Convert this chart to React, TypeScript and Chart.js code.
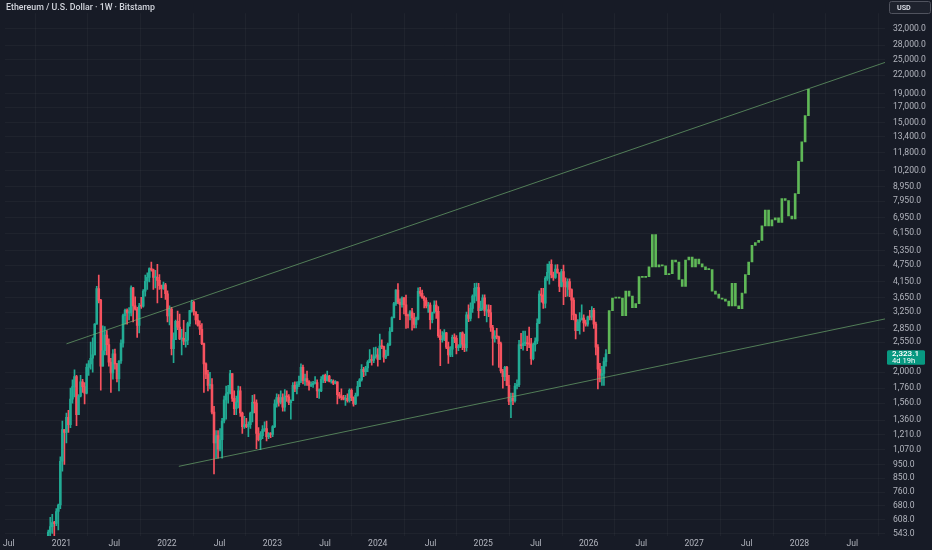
import React, { useEffect, useRef } from "react";
import { Chart, registerables } from "chart.js";

Chart.register(...registerables);

const W = 932;
const H = 550;
const BG = "#171b26";
const UP = "#22ab94";
const DOWN = "#f7525f";
const PROJ = "#5fb857";
const TEXT = "#b2b5be";
const GRID = "rgba(255,255,255,0.035)";
const TREND = "rgba(118,186,118,0.62)";

// ---- Weekly ETH/USD candles (Bitstamp), weeks starting Monday ----
const realStart = "2020-11-16";
const firstOpen = 460;

const weeklyClose = [
  // 2020
  550, 575, 595, 590, 650, 685, 975,
  // 2021
  1260, 1230, 1390, 1310, 1610, 1780, 1930, 1420, 1650, 1850, 1780, 1690, 2080, 2140, 2240, 2300, 2950, 3930, 3580, 2100,
  2380, 2700, 2500, 2170, 1990, 2320, 2140, 1900, 2190, 2530, 3160, 3300, 3230, 3230, 3950, 3420, 3330, 2920, 3420, 3410,
  3850, 4170, 4300, 4620, 4570, 4300, 4300, 4200, 4020, 3930, 4050, 3770,
  // 2022
  3150, 3330, 2420, 2600, 3020, 2880, 2620, 2630, 2570, 2590, 2960, 3290, 3520, 3260, 3050, 2920, 2830, 2520, 2140, 1970,
  1800, 1810, 1450, 1130, 1200, 1075, 1160, 1350, 1600, 1680, 1700, 1980, 1620, 1490, 1570, 1720, 1440, 1290, 1310, 1290,
  1310, 1440, 1570, 1560, 1220, 1160, 1200, 1260, 1270, 1190, 1220, 1210,
  // 2023
  1290, 1550, 1630, 1570, 1630, 1510, 1650, 1640, 1565, 1590, 1800, 1750, 1810, 1860, 2080, 1870, 1900, 1850, 1800, 1810,
  1830, 1840, 1720, 1720, 1890, 1950, 1870, 1940, 1860, 1860, 1830, 1850, 1670, 1650, 1630, 1610, 1620, 1590, 1730, 1630,
  1550, 1660, 1780, 1880, 2050, 2010, 2070, 2170, 2220, 2200, 2270, 2300,
  // 2024
  2220, 2470, 2460, 2260, 2290, 2500, 2780, 3110, 3480, 3880, 3520, 3450, 3640, 3450, 3160, 3150, 3260, 3100, 2940, 3070,
  3840, 3780, 3660, 3570, 3420, 3440, 3060, 3240, 3440, 3270, 2690, 2600, 2610, 2750, 2450, 2300, 2410, 2650, 2630, 2440,
  2470, 2750, 2510, 2440, 3180, 3090, 3350, 3700, 3940, 3960, 3290, 3350, 3650,
  // 2025
  3280, 3310, 3240, 2870, 2630, 2680, 2660, 2520, 2020, 1930, 2080, 1800, 1580, 1620, 1590, 1790, 1810, 2500, 2480, 2530,
  2540, 2520, 2510, 2230, 2500, 2570, 2970, 3760, 3720, 3490, 4270, 4480, 4780, 4390, 4300, 4600, 4460, 4000, 4510, 4150,
  3980, 4160, 3900, 3580, 3180, 2800, 3000, 3050, 3100, 2980, 2950, 3130,
  // 2026
  3120, 3300, 2950, 2450, 2050, 1950, 1980, 2180, 2323.1,
];

const weeklyHigh = [
  560, 620, 635, 600, 665, 690, 1010,
  1350, 1260, 1440, 1470, 1760, 1880, 2040, 1950, 1670, 1950, 1890, 1840, 2140, 2200, 2550, 2640, 2960, 4000, 4380, 3600,
  2910, 2890, 2800, 2620, 2240, 2400, 2410, 2150, 2200, 2600, 3200, 3330, 3340, 3370, 4020, 3970, 3680, 3380, 3490, 3660,
  3900, 4380, 4460, 4650, 4870, 4600, 4550, 4780, 4400, 4040, 4140, 4100,
  3860, 3420, 3380, 2750, 3050, 3280, 3200, 2830, 3040, 2760, 3000, 3300, 3580, 3550, 3250, 3190, 3030, 2960, 2530, 2160,
  2030, 2000, 1900, 1520, 1250, 1250, 1270, 1380, 1650, 1790, 1800, 2030, 1980, 1720, 1650, 1790, 1780, 1450, 1400, 1380,
  1340, 1450, 1660, 1670, 1600, 1280, 1240, 1300, 1340, 1350, 1230, 1230,
  1300, 1600, 1680, 1670, 1720, 1680, 1740, 1720, 1670, 1600, 1840, 1850, 1850, 1940, 2140, 2120, 1970, 2020, 1870, 1850,
  1860, 1930, 1880, 1750, 1930, 1960, 1970, 2020, 1950, 1890, 1880, 1870, 1850, 1700, 1750, 1660, 1660, 1680, 1750, 1750,
  1640, 1690, 1860, 1900, 2130, 2080, 2100, 2200, 2400, 2300, 2440, 2450,
  2420, 2720, 2600, 2470, 2390, 2530, 2870, 3130, 3520, 3900, 4090, 3620, 3680, 3660, 3730, 3200, 3290, 3350, 3220, 3120,
  3950, 3970, 3880, 3700, 3650, 3520, 3500, 3250, 3560, 3560, 3400, 2820, 2780, 2820, 2760, 2550, 2460, 2700, 2730, 2690,
  2500, 2760, 2770, 2720, 3250, 3450, 3500, 3740, 4100, 4110, 4100, 3550, 3740,
  3740, 3450, 3450, 3430, 2920, 2800, 2850, 2680, 2550, 2050, 2100, 2100, 1950, 1690, 1690, 1830, 1880, 2590, 2740, 2790,
  2790, 2680, 2880, 2630, 2530, 2640, 3080, 3860, 3940, 3940, 4330, 4790, 4890, 4960, 4490, 4760, 4770, 4460, 4590, 4750,
  4290, 4250, 4250, 3920, 3650, 3200, 3060, 3240, 3450, 3180, 3050, 3150,
  3300, 3400, 3350, 3000, 2500, 2150, 2100, 2250, 2400,
];

const weeklyLow = [
  440, 490, 545, 530, 580, 560, 665,
  900, 950, 1130, 1230, 1280, 1560, 1640, 1300, 1420, 1640, 1700, 1550, 1680, 1950, 2050, 2000, 2300, 2950, 3500, 1730,
  2100, 2300, 2300, 2100, 1700, 1890, 2050, 1850, 1720, 2150, 2450, 2950, 2950, 3050, 3150, 3000, 3300, 2650, 2750, 3350,
  3380, 3700, 3900, 4150, 4520, 3900, 3950, 3500, 3900, 3650, 3900, 3600,
  3000, 2930, 2300, 2160, 2600, 2820, 2600, 2300, 2500, 2450, 2500, 2900, 3250, 3170, 2950, 2900, 2710, 2500, 1700, 1900,
  1720, 1750, 1430, 880, 1000, 1000, 1060, 1000, 1330, 1370, 1560, 1680, 1580, 1420, 1420, 1500, 1400, 1220, 1270, 1280,
  1190, 1270, 1340, 1440, 1080, 1150, 1070, 1170, 1240, 1150, 1170, 1180,
  1190, 1280, 1510, 1520, 1550, 1460, 1460, 1580, 1540, 1370, 1590, 1710, 1680, 1780, 1840, 1820, 1800, 1800, 1730, 1780,
  1770, 1820, 1630, 1620, 1710, 1840, 1840, 1860, 1850, 1830, 1810, 1820, 1550, 1620, 1600, 1600, 1530, 1570, 1570, 1590,
  1520, 1540, 1650, 1780, 1860, 1930, 1950, 2010, 2160, 2120, 2160, 2240,
  2100, 2220, 2420, 2170, 2230, 2290, 2480, 2780, 3100, 3430, 3480, 3060, 3380, 3200, 2850, 2860, 3050, 2810, 2860, 2860,
  3050, 3700, 3630, 3360, 3360, 3240, 2830, 2980, 3220, 3090, 2650, 2110, 2550, 2580, 2420, 2150, 2270, 2270, 2540, 2320,
  2380, 2440, 2400, 2360, 2370, 3010, 3030, 3240, 3500, 3560, 3100, 3290, 3300,
  3160, 3000, 3130, 2780, 2120, 2550, 2620, 2080, 1990, 1760, 1870, 1800, 1540, 1385, 1540, 1570, 1750, 1780, 2420, 2390,
  2480, 2380, 2440, 2130, 2210, 2370, 2520, 2960, 3520, 3350, 3360, 4200, 4070, 4280, 4200, 4270, 4450, 3830, 3980, 3450,
  3680, 3700, 3680, 3060, 3050, 2620, 2800, 2720, 3050, 2780, 2900, 2900,
  3050, 3050, 2850, 2300, 1750, 1850, 1800, 1800, 2100,
];

// ---- Projected path (green bars pattern) ----
const projStart = "2026-03-13";
const projStepDays = 11.5;
const projClose = [
  3290, 3640, 3670, 3640, 3160, 3850, 3700, 3370, 3480, 4330, 4300, 4330, 4685, 6080, 4685, 4760, 4720, 4400, 4435, 4950,
  4870, 4230, 4000, 4950, 5070, 4685, 4990, 4800, 4685, 4580, 4580, 3850, 3760, 3640, 3610, 3550, 3420, 4100, 3420, 3340,
  3790, 4400, 4870, 5570, 5700, 5800, 6520, 7400, 6520, 6840, 6950, 6700, 8130, 8000, 7060, 6900, 8460, 10970, 12840, 15880,
  19640,
];

// ---- Channel trend lines (decimal year, price) ----
const upperLineX = [2021.047, 2028.811];
const upperLineY = [2516, 24390];
const lowerLineX = [2022.113, 2028.811];
const lowerLineY = [936, 3076];

// ---- Axes ----
const X_MIN = 2020.4623;
const X_MAX = 2028.811;
const Y_MIN = 533.4;
const Y_MAX = 36300;
const timeTicks = [2020.5, 2021, 2021.5, 2022, 2022.5, 2023, 2023.5, 2024, 2024.5, 2025, 2025.5, 2026, 2026.5, 2027, 2027.5, 2028, 2028.5];
const timeLabels = ["Jul", "2021", "Jul", "2022", "Jul", "2023", "Jul", "2024", "Jul", "2025", "Jul", "2026", "Jul", "2027", "Jul", "2028", "Jul"];
const priceTicks = [
  543, 608, 680, 760, 850, 950, 1070, 1210, 1360, 1560, 1760, 2000, 2550, 2850, 3250, 3650, 4150, 4750, 5350, 6150, 6950,
  7950, 8950, 10200, 11800, 13400, 15000, 17000, 19000, 22000, 25000, 28000, 32000,
];
const title = "Ethereum / U.S. Dollar · 1W · Bitstamp";
const lastPrice = 2323.1;
const countdown = "4d 19h";
const currency = "USD";

const DAY = 86400000;
function toYear(ms: number): number {
  const y = new Date(ms).getUTCFullYear();
  const s = Date.UTC(y, 0, 1);
  const e = Date.UTC(y + 1, 0, 1);
  return y + (ms - s) / (e - s);
}
const fmtPrice = (v: number) =>
  v.toLocaleString("en-US", { minimumFractionDigits: 1, maximumFractionDigits: 1 });

function roundRect(ctx: CanvasRenderingContext2D, x: number, y: number, w: number, h: number, r: number) {
  ctx.beginPath();
  ctx.moveTo(x + r, y);
  ctx.lineTo(x + w - r, y);
  ctx.quadraticCurveTo(x + w, y, x + w, y + r);
  ctx.lineTo(x + w, y + h - r);
  ctx.quadraticCurveTo(x + w, y + h, x + w - r, y + h);
  ctx.lineTo(x + r, y + h);
  ctx.quadraticCurveTo(x, y + h, x, y + h - r);
  ctx.lineTo(x, y + r);
  ctx.quadraticCurveTo(x, y, x + r, y);
  ctx.closePath();
}

export default function App() {
  const ref = useRef<HTMLCanvasElement>(null);

  useEffect(() => {
    document.body.style.margin = "0";
    document.body.style.background = BG;
    const canvas = ref.current;
    if (!canvas) return;

    const startMs = Date.parse(realStart + "T00:00:00Z");
    const candles = weeklyClose.map((c, i) => {
      const o = i === 0 ? firstOpen : weeklyClose[i - 1];
      return {
        x: toYear(startMs + i * 7 * DAY),
        o,
        c,
        h: Math.max(weeklyHigh[i], o, c),
        l: Math.min(weeklyLow[i], o, c),
      };
    });
    const colors = candles.map((k) => (k.c >= k.o ? UP : DOWN));
    const projMs = Date.parse(projStart + "T00:00:00Z");
    const lastClose = weeklyClose[weeklyClose.length - 1];
    const proj = projClose.map((c, i) => ({
      x: toYear(projMs + i * projStepDays * DAY),
      y: [i === 0 ? lastClose : projClose[i - 1], c],
    }));

    const overlay = {
      id: "overlay",
      beforeDraw(chart: any) {
        const ctx = chart.ctx as CanvasRenderingContext2D;
        ctx.save();
        ctx.fillStyle = BG;
        ctx.fillRect(0, 0, chart.width, chart.height);
        ctx.restore();
      },
      afterDraw(chart: any) {
        const ctx = chart.ctx as CanvasRenderingContext2D;
        ctx.save();
        // title
        ctx.fillStyle = "#d1d4dc";
        ctx.font = "500 8.8px Roboto";
        ctx.textBaseline = "middle";
        ctx.textAlign = "left";
        ctx.fillText(title, 6, 7.5);
        // currency box
        roundRect(ctx, 889.5, 1.5, 41, 12, 2);
        ctx.fillStyle = "#1e222d";
        ctx.fill();
        ctx.strokeStyle = "#50535e";
        ctx.lineWidth = 1;
        ctx.stroke();
        ctx.fillStyle = "#e0e3eb";
        ctx.font = "600 7.2px Roboto";
        ctx.fillText(currency, 897, 7.8);
        // last price badge
        const y = chart.scales.y.getPixelForValue(lastPrice);
        roundRect(ctx, 887, y - 3.5, 38, 14.5, 1.5);
        ctx.fillStyle = "#089981";
        ctx.fill();
        ctx.fillStyle = "#ffffff";
        ctx.font = "600 8px Roboto";
        ctx.fillText(fmtPrice(lastPrice), 892, y + 0.5);
        ctx.font = "7.6px Roboto";
        ctx.fillText(countdown, 892, y + 7.5);
        ctx.restore();
      },
    };

    const chart = new Chart(canvas, {
      type: "bar",
      data: {
        datasets: [
          {
            type: "line",
            data: upperLineX.map((x, i) => ({ x, y: upperLineY[i] })),
            borderColor: TREND,
            borderWidth: 1,
            pointRadius: 0,
            order: 0,
          } as any,
          {
            type: "line",
            data: lowerLineX.map((x, i) => ({ x, y: lowerLineY[i] })),
            borderColor: TREND,
            borderWidth: 1,
            pointRadius: 0,
            order: 0,
          } as any,
          {
            data: candles.map((k) => ({ x: k.x, y: [k.o, k.c] })),
            backgroundColor: colors,
            barThickness: 1.9,
            minBarLength: 1,
            grouped: false,
            order: 2,
          } as any,
          {
            data: candles.map((k) => ({ x: k.x, y: [k.l, k.h] })),
            backgroundColor: colors,
            barThickness: 1,
            grouped: false,
            order: 3,
          } as any,
          {
            data: proj,
            backgroundColor: PROJ,
            barThickness: 2,
            minBarLength: 1,
            grouped: false,
            order: 2,
          } as any,
        ],
      },
      options: {
        animation: false,
        responsive: false,
        events: [],
        layout: { padding: 0 },
        plugins: {
          legend: { display: false },
          tooltip: { enabled: false },
        },
        scales: {
          x: {
            type: "linear",
            min: X_MIN,
            max: X_MAX,
            offset: false,
            grid: { color: GRID, drawTicks: false },
            border: { display: false },
            afterBuildTicks: (s: any) => {
              s.ticks = timeTicks.map((v) => ({ value: v }));
            },
            afterFit: (s: any) => {
              s.height = 14;
            },
            ticks: {
              color: TEXT,
              font: { family: "Roboto", size: 8.6 },
              padding: 3,
              autoSkip: false,
              maxRotation: 0,
              callback: (v: any) => {
                const i = timeTicks.indexOf(Number(v));
                return i >= 0 ? timeLabels[i] : "";
              },
            },
          },
          y: {
            type: "logarithmic",
            position: "right",
            min: Y_MIN,
            max: Y_MAX,
            grid: { color: GRID, drawTicks: false },
            border: { display: false },
            afterBuildTicks: (s: any) => {
              s.ticks = priceTicks.map((v) => ({ value: v }));
            },
            afterFit: (s: any) => {
              s.width = 47;
            },
            ticks: {
              color: TEXT,
              font: { family: "Roboto", size: 8.6 },
              padding: 8,
              autoSkip: false,
              callback: (v: any) => fmtPrice(Number(v)),
            },
          },
        },
      } as any,
      plugins: [overlay],
    });

    return () => chart.destroy();
  }, []);

  return (
    <div style={{ width: W, height: H }}>
      <canvas ref={ref} width={W} height={H} style={{ display: "block" }} />
    </div>
  );
}
